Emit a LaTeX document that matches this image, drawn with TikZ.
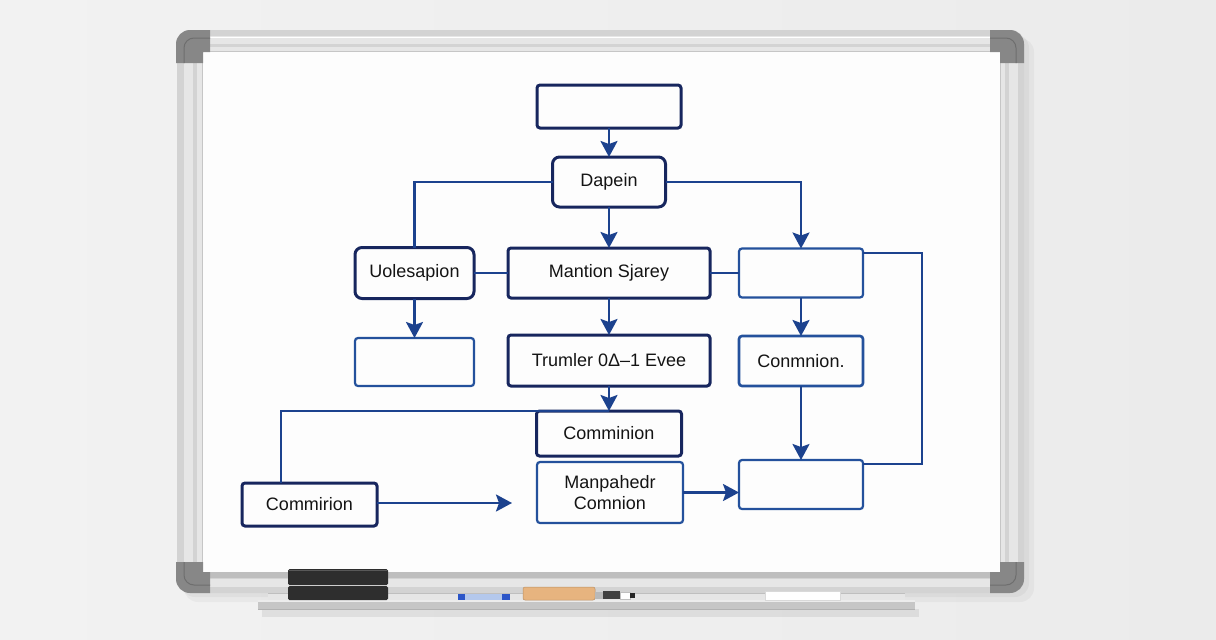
\documentclass[tikz,border=0pt]{standalone}
\usepackage{fontspec}
\setmainfont{Liberation Sans}
\usetikzlibrary{arrows.meta,calc}
\definecolor{navy}{HTML}{17265E}
\definecolor{lineblue}{HTML}{1C428E}
\definecolor{boxblue}{HTML}{24519C}
\definecolor{bgl}{HTML}{F2F2F2}
\definecolor{bgr}{HTML}{EBEBEB}
\definecolor{frameout}{HTML}{D3D3D3}
\definecolor{framein}{HTML}{E6E6E6}
\definecolor{cornergray}{HTML}{878787}
\definecolor{cornerdark}{HTML}{6E6E6E}
\definecolor{boardwhite}{HTML}{FDFDFD}
\definecolor{eraser}{HTML}{2E2E2E}
\definecolor{wood}{HTML}{E7B47F}
\definecolor{capblue}{HTML}{2B55C8}
\definecolor{bodyblue}{HTML}{B4C8EC}
\definecolor{trayc}{HTML}{C6C6C6}
\definecolor{textc}{HTML}{141414}
\begin{document}
\begin{tikzpicture}[x=1pt,y=-1pt,
  every node/.style={inner sep=0pt,outer sep=0pt,text=textc,font=\fontsize{18}{21}\selectfont},
  darkbox/.style={draw=navy,line width=3pt,rounded corners=3pt,fill=boardwhite},
  softbox/.style={draw=navy,line width=3pt,rounded corners=7pt,fill=boardwhite},
  lightbox/.style={draw=boxblue,line width=2.2pt,rounded corners=3pt,fill=boardwhite},
  conn/.style={draw=lineblue,line width=2.4pt},
  arr/.style={conn,-{Stealth[length=16pt,width=17pt,inset=3pt]}}]
\useasboundingbox (0,0) rectangle (1216,640);
% background
\fill[left color=bgl,right color=bgr] (0,0) rectangle (1216,640);
% shadows
\fill[black,opacity=0.035,rounded corners=14pt] (184,38) rectangle (1034,602);
\fill[black,opacity=0.035,rounded corners=14pt] (181,34) rectangle (1029,597);
\fill[black,opacity=0.07] (262,609) rectangle (919,617);
% frame
\fill[frameout,rounded corners=13pt] (177,30) rectangle (1024,593);
\fill[framein] (184,36) rectangle (1018,587);
\draw[white,line width=1pt] (184,37) -- (1018,37);
\fill[frameout] (193,44) rectangle (1009,579);
\fill[framein] (197,47) rectangle (1005,575);
\fill[boardwhite] (202,51) rectangle (1000,572);
\draw[gray!45,line width=0.8pt] (202,51) rectangle (1000,572);
\fill[frameout!90!black] (202,572) rectangle (1000,578);
% corners
\fill[cornergray] (176,63) -- (176,44) arc[start angle=180,end angle=270,radius=14] -- (210,30) -- (210,52) -- (203,52) -- (203,63) -- cycle;
\draw[cornerdark,line width=1pt] (184,63) -- (184,48) arc[start angle=180,end angle=270,radius=10] -- (210,38);
\fill[cornergray] (1024,63) -- (1024,44) arc[start angle=0,end angle=-90,radius=14] -- (990,30) -- (990,52) -- (1000,52) -- (1000,63) -- cycle;
\draw[cornerdark,line width=1pt] (1016,63) -- (1016,48) arc[start angle=0,end angle=-90,radius=10] -- (990,38);
\fill[cornergray] (176,562) -- (203,562) -- (203,572) -- (210,572) -- (210,593) -- (190,593) arc[start angle=90,end angle=180,radius=14] -- cycle;
\draw[cornerdark,line width=1pt] (184,562) -- (184,575) arc[start angle=180,end angle=90,radius=10] -- (210,585);
\fill[cornergray] (1024,562) -- (1000,562) -- (1000,572) -- (990,572) -- (990,593) -- (1010,593) arc[start angle=90,end angle=0,radius=14] -- cycle;
\draw[cornerdark,line width=1pt] (1016,562) -- (1016,575) arc[start angle=0,end angle=90,radius=10] -- (990,585);
% tray
\fill[framein] (268,593) rectangle (905,600);
\draw[gray!50,line width=0.6pt] (268,593) -- (905,593);
\fill[trayc] (258,600) rectangle (915,609);
\fill[gray!15] (258,600) rectangle (915,602);
\draw[gray!60,line width=0.6pt] (258,609) -- (915,609);
% eraser
\fill[eraser,rounded corners=1.5pt] (288,569) rectangle (388,585);
\fill[eraser,rounded corners=1.5pt] (288,586) rectangle (388,600);
\draw[gray!70!black,line width=0.6pt] (289,570) -- (387,570);
% blue marker
\fill[bodyblue] (458,594) rectangle (510,600);
\fill[capblue] (458,594) rectangle (465,600);
\fill[capblue] (502,594) rectangle (510,600);
% wooden marker and pen
\fill[wood,rounded corners=2pt] (523,587) rectangle (595,600);
\draw[wood!80!black,line width=0.5pt,rounded corners=2pt] (523,587) rectangle (595,600);
\fill[gray!55] (595,592) rectangle (603,599);
\fill[black!75] (603,591) rectangle (620,599);
\fill[white] (620,592) rectangle (630,599);
\draw[gray!50,line width=0.4pt] (620,592) rectangle (630,599);
\fill[black!85] (630,593) rectangle (635,598);
% white item
\fill[white] (765,591) rectangle (840,600);
\draw[gray!30,line width=0.5pt] (765,591) rectangle (840,600);
% nodes
\node[darkbox,minimum width=144pt,minimum height=43pt] (top) at (609,106.5) {};
\node[softbox,minimum width=113pt,minimum height=50pt] (dap) at (609,182) {Dapein};
\node[softbox,minimum width=119pt,minimum height=51pt] (col) at (414.5,273) {Uolesapion};
\node[darkbox,minimum width=202pt,minimum height=50pt] (man) at (609,273) {Mantion Sjarey};
\node[lightbox,minimum width=124pt,minimum height=49pt] (rb1) at (801,273) {};
\node[lightbox,minimum width=119pt,minimum height=48pt] (emp) at (414.5,362) {};
\node[darkbox,minimum width=202pt,minimum height=51pt] (tru) at (609,360.5) {Trumler 0Δ–1 Evee};
\node[lightbox,line width=2.6pt,minimum width=124pt,minimum height=50pt] (cnm) at (801,361) {Conmnion.};
\node[lightbox,minimum width=124pt,minimum height=49pt] (brb) at (801,484.5) {};
\node[darkbox,minimum width=145pt,minimum height=45pt] (cmi) at (609,433.5) {Comminion};
\node[darkbox,minimum width=135pt,minimum height=43pt] (cmr) at (309.5,504.5) {Commirion};
\node[lightbox,minimum width=146pt,minimum height=61pt,align=center] (mnp) at (610,492.5) {Manpahedr\\Comnion};
% helper coordinates
\coordinate (r1) at (922,253);
\coordinate (r2) at (922,464);
\coordinate (k1) at (281,411);
\coordinate (fe) at (512,503);
% connectors
\draw[arr] (top.south) -- (dap.north);
\draw[conn] (dap.west) -| (col.north);
\draw[arr] (dap.east) -| (rb1.north);
\draw[arr] (dap.south) -- (man.north);
\draw[conn] (col.east) -- (man.west);
\draw[conn] (man.east) -- (rb1.west);
\draw[conn] (rb1.east |- r1) -- (r1) -- (r2) -- (brb.east |- r2);
\draw[arr] (col.south) -- (emp.north);
\draw[arr] (man.south) -- (tru.north);
\draw[arr] (rb1.south) -- (cnm.north);
\draw[arr] (cnm.south) -- (brb.north);
\draw[arr] (tru.south) -- (cmi.north);
\draw[conn,line width=1.6pt] (cmr.north -| k1) -- (k1) -- (cmi.north);
\draw[arr] (cmr.east |- fe) -- (fe);
\draw[arr] (mnp.east) -- (mnp.east -| brb.west);
\end{tikzpicture}
\end{document}
